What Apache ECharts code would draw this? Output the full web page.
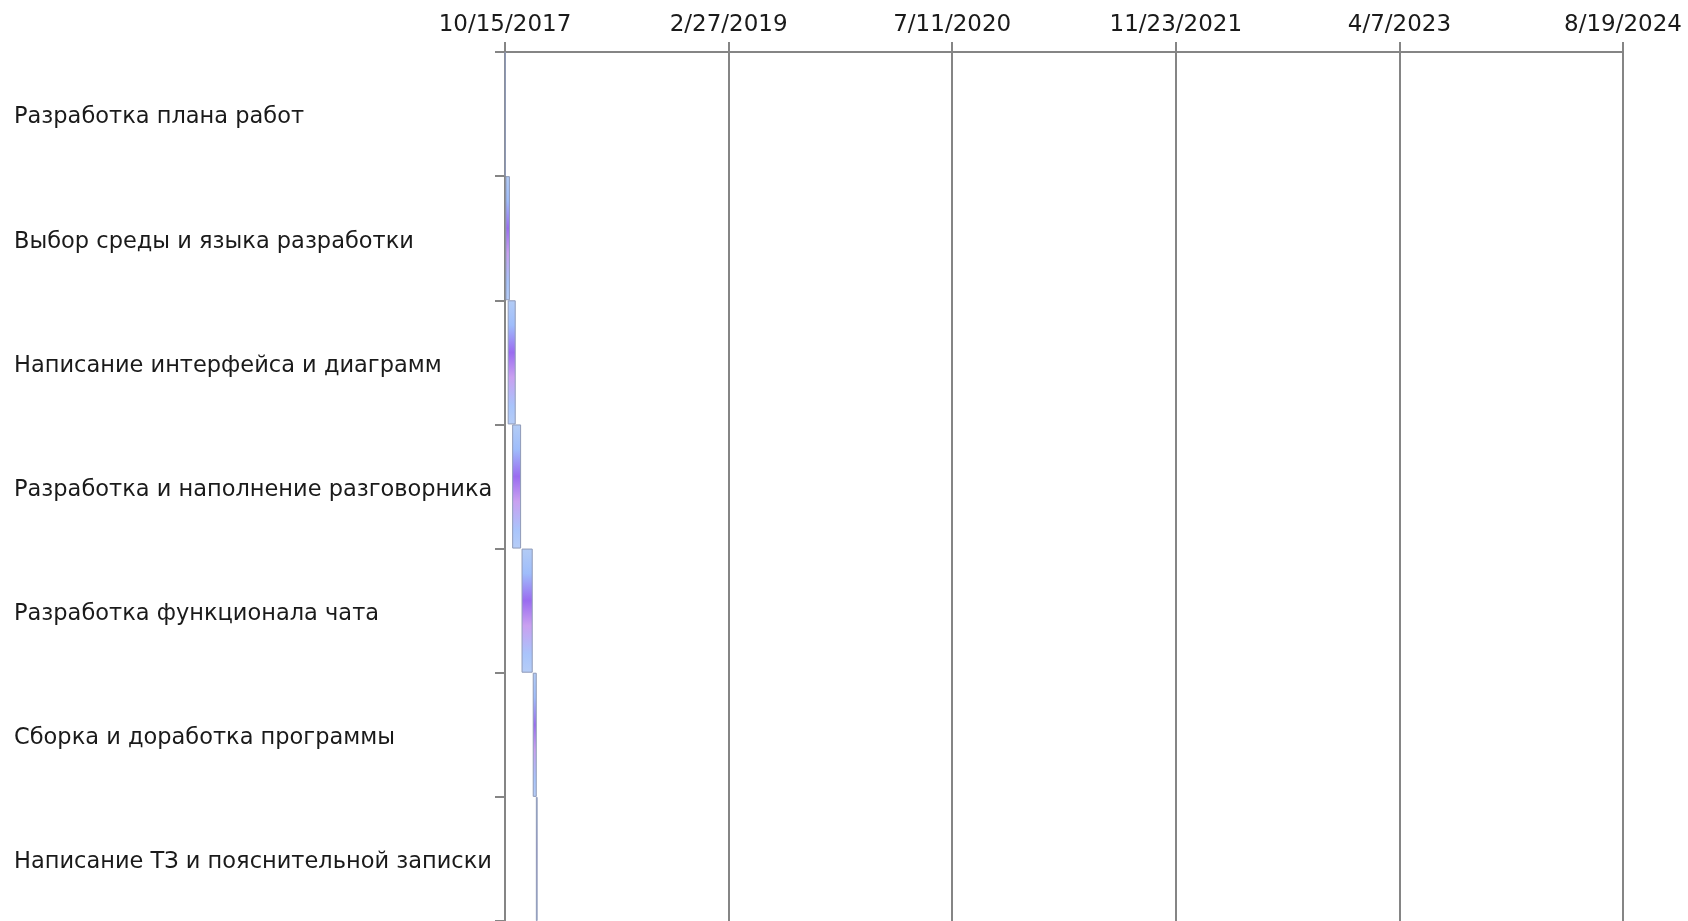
<!DOCTYPE html>
<html>
<head>
<meta charset="utf-8">
<script src="https://cdn.jsdelivr.net/npm/echarts@6/dist/echarts.min.js"></script>
<style>
  html, body { margin: 0; padding: 0; background: #ffffff; }
  #chart { width: 1688px; height: 921px; }
</style>
</head>
<body>
<div id="chart"></div>
<script>
// ---- Data ----
const tasks = [
  'Разработка плана работ',
  'Выбор среды и языка разработки',
  'Написание интерфейса и диаграмм',
  'Разработка и наполнение разговорника',
  'Разработка функционала чата',
  'Сборка и доработка программы',
  'Написание ТЗ и пояснительной записки'
];
const startDates = [
  '2017-10-15',
  '2017-10-16',
  '2017-10-21',
  '2017-10-31',
  '2017-11-21',
  '2017-12-16',
  '2017-12-23'
];
const durations = [1, 10, 18, 20, 25, 9, 4]; // days
const axisStartDate = '2017-10-15';
const axisSpanDays = 2500;
const axisStepDays = 500;

// ---- Helpers ----
const DAY = 86400000;
function toUTC(s) { const p = s.split('-').map(Number); return Date.UTC(p[0], p[1] - 1, p[2]); }
const origin = toUTC(axisStartDate);
const startOffsets = startDates.map(d => Math.round((toUTC(d) - origin) / DAY));
function fmtDay(v) {
  const d = new Date(origin + v * DAY);
  return (d.getUTCMonth() + 1) + '/' + d.getUTCDate() + '/' + d.getUTCFullYear();
}

const gridColor = '#858585';
const chart = echarts.init(document.getElementById('chart'));
chart.setOption({
  animation: false,
  backgroundColor: '#ffffff',
  grid: { left: 505, right: 65, top: 52, bottom: -2, containLabel: false },
  xAxis: {
    type: 'value',
    position: 'top',
    min: 0,
    max: axisSpanDays,
    interval: axisStepDays,
    axisLine: { show: true, lineStyle: { color: gridColor, width: 2 } },
    axisTick: { show: true, length: 10, lineStyle: { color: gridColor, width: 2 } },
    splitLine: { show: true, lineStyle: { color: gridColor, width: 2 } },
    axisLabel: {
      formatter: fmtDay,
      fontFamily: 'DejaVu Sans',
      fontSize: 23,
      color: '#1a1a1a',
      margin: 15
    }
  },
  yAxis: {
    type: 'category',
    inverse: true,
    data: tasks,
    axisLine: { show: true, lineStyle: { color: gridColor, width: 2 } },
    axisTick: { show: true, length: 10, lineStyle: { color: gridColor, width: 2 } },
    splitLine: { show: false },
    axisLabel: {
      align: 'left',
      margin: 491,
      formatter: v => '{t|' + v + '}',
      rich: {
        t: {
          fontFamily: 'DejaVu Sans',
          fontSize: 22.5,
          color: '#1a1a1a',
          padding: [7, 0, 0, 0]
        }
      }
    }
  },
  series: [
    {
      name: 'start',
      type: 'bar',
      stack: 'gantt',
      data: startOffsets,
      barCategoryGap: 0,
      itemStyle: { color: 'rgba(0,0,0,0)' },
      silent: true
    },
    {
      name: 'duration',
      type: 'bar',
      stack: 'gantt',
      data: durations,
      barCategoryGap: 0,
      itemStyle: {
        color: new echarts.graphic.LinearGradient(0, 0, 0, 1, [
          { offset: 0, color: '#b3ccf5' },
          { offset: 0.2, color: '#9fbdfb' },
          { offset: 0.42, color: '#9a6cf0' },
          { offset: 0.62, color: '#c9a0f0' },
          { offset: 0.85, color: '#a9c4fb' },
          { offset: 1, color: '#b6cdf7' }
        ]),
        borderColor: '#8f9ab8',
        borderWidth: 1
      }
    }
  ]
});
</script>
</body>
</html>
